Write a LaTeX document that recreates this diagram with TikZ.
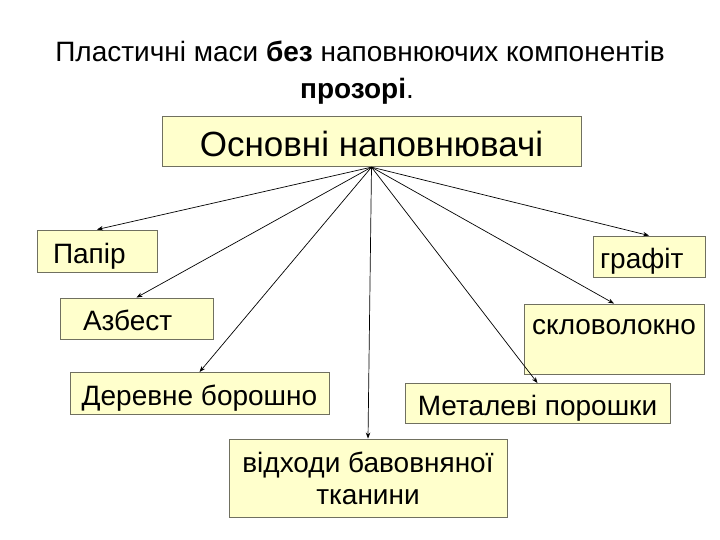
\documentclass[tikz,border=0pt]{standalone}
\usepackage{fontspec}
\setmainfont{Liberation Sans}
\usetikzlibrary{arrows.meta}
\definecolor{boxfill}{HTML}{FFFFCC}
\definecolor{boxline}{HTML}{707060}
\tikzset{
  fbox/.style={draw=boxline, fill=boxfill, line width=0.9pt, inner sep=0pt, font=\fontsize{28}{32}\selectfont},
  oneline/.style={text height=24.4pt, text depth=0pt},
  titletext/.style={anchor=base, inner sep=0pt, font=\fontsize{28}{32}\selectfont},
  conn/.style={line width=0.7pt, -{Stealth[length=6pt,width=4.5pt]}},
}
\begin{document}
\begin{tikzpicture}[x=1pt,y=-1pt]
\useasboundingbox[fill=white] (0,0) rectangle (720,540);
\node[titletext] (t1) at (360,61.7) {Пластичні маси \textbf{без} наповнюючих компонентів};
\node[titletext] (t2) at (357,99) {\textbf{прозорі}.};
\node[fbox, text height=30pt, text depth=0pt, minimum width=419pt, minimum height=50pt, font=\fontsize{35}{40}\selectfont] (main) at (371.5,141.7) {Основні наповнювачі};
\node[fbox, oneline, minimum width=120pt, minimum height=42pt, text width=88pt, align=left, inner xsep=16pt] (papir) at (97,251) {Папір};
\node[fbox, oneline, minimum width=153pt, minimum height=41pt, text width=107pt, align=left, inner xsep=23pt] (azbest) at (136.5,318.5) {Азбест};
\node[fbox, oneline, minimum width=112pt, minimum height=41pt, text width=98pt, align=left, inner xsep=7pt] (grafit) at (649,256.5) {графіт};
\node[fbox, minimum width=180pt, minimum height=70pt] (sklo) at (614,339) {};
\node[font=\fontsize{28}{32}\selectfont, anchor=base west, inner sep=0pt] (sklot) at (532,334.5) {скловолокно};
\node[fbox, oneline, minimum width=259pt, minimum height=41.5pt] (derevne) at (199.5,393.25) {Деревне борошно};
\node[fbox, text height=23pt, text depth=0pt, minimum width=265pt, minimum height=40pt] (metal) at (537.5,403.5) {Металеві порошки};
\node[fbox, minimum width=278pt, minimum height=78pt, align=center, font=\fontsize{28}{32}\selectfont] (vidkh) at (368,478) {відходи бавовняної\\тканини};
\foreach \n in {papir,azbest,derevne,vidkh,metal,sklo,grafit}
  \draw[conn] (main.south) -- (\n.north);
\end{tikzpicture}
\end{document}
